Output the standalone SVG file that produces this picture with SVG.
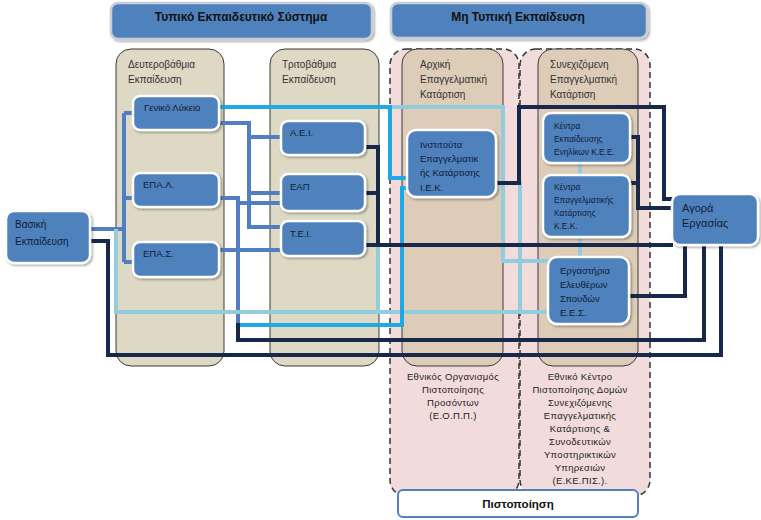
<svg xmlns="http://www.w3.org/2000/svg" width="761" height="520" viewBox="0 0 761 520">
<defs>
<filter id="sh" x="-20%" y="-20%" width="150%" height="150%">
<feDropShadow dx="1.5" dy="1.5" stdDeviation="1.2" flood-color="#000" flood-opacity="0.35"/>
</filter>
</defs>
<style>
text{font-family:"Liberation Sans",Arial,sans-serif;}
.hdr{fill:#4F81BD;stroke:#C8CDD6;stroke-width:2.5;filter:url(#sh);}
.hdrt{font-size:12px;font-weight:bold;fill:#111;text-anchor:middle;}
.col{fill:#DDD9C4;stroke:#3A3A3A;stroke-width:1;}
.colb{fill:#DDCCB8;stroke:#3A3A3A;stroke-width:1;}
.pink{fill:#F2DCDB;stroke:#333;stroke-width:1.5;stroke-dasharray:6 4;}
.ct{font-size:10px;fill:#333;}
.nd{fill:#4F81BD;stroke:#fff;stroke-width:2.5;filter:url(#sh);}
.nt{font-size:9.5px;fill:#0F1D35;}
.ns{font-size:8.3px;fill:#0F1D35;}
.bt{font-size:9.5px;fill:#222;text-anchor:middle;letter-spacing:0.3px;}
.c{fill:none;stroke-width:4;stroke-linejoin:miter;}
.mb{stroke:#4F7FC2;}
.lb{stroke:#93CDDD;}
.cy{stroke:#1FA8E1;}
.nv{stroke:#17284A;}
</style>
<rect width="761" height="520" fill="#fff"/>

<g id="hdr-typiko">
<rect class="hdr" x="111" y="3" width="261" height="36" rx="7"/>
<text class="hdrt" x="241" y="21">Τυπικό Εκπαιδευτικό Σύστημα</text>
</g>
<g id="hdr-mi-typiki">
<rect class="hdr" x="391" y="3" width="256" height="35" rx="7"/>
<text class="hdrt" x="518" y="21">Μη Τυπική Εκπαίδευση</text>
</g>

<g id="col-deuterovathmia">
<rect class="col" x="116" y="49" width="108" height="317" rx="15"/>
<text class="ct" x="128" y="68">Δευτεροβάθμια</text>
<text class="ct" x="128" y="83">Εκπαίδευση</text>
</g>
<g id="col-tritovathmia">
<rect class="col" x="270" y="49" width="109" height="317" rx="15"/>
<text class="ct" x="282" y="68">Τριτοβάθμια</text>
<text class="ct" x="282" y="83">Εκπαίδευση</text>
</g>
<g id="region-eopp">
<rect class="pink" x="390" y="49" width="129" height="447" rx="16"/>
<rect class="colb" x="402" y="49" width="101" height="317" rx="15"/>
<text class="ct" x="420" y="68">Αρχική</text>
<text class="ct" x="420" y="83">Επαγγελματική</text>
<text class="ct" x="420" y="98">Κατάρτιση</text>
<text class="bt" x="453" y="380">Εθνικός Οργανισμός</text>
<text class="bt" x="453" y="393">Πιστοποίησης</text>
<text class="bt" x="453" y="406">Προσόντων</text>
<text class="bt" x="453" y="419">(Ε.Ο.Π.Π.)</text>
</g>
<g id="region-ekepis">
<rect class="pink" x="520" y="49" width="130" height="447" rx="16"/>
<rect class="colb" x="538" y="49" width="100" height="317" rx="15"/>
<text class="ct" x="550" y="68">Συνεχιζόμενη</text>
<text class="ct" x="550" y="83">Επαγγελματική</text>
<text class="ct" x="550" y="98">Κατάρτιση</text>
<text class="bt" x="580" y="380">Εθνικό Κέντρο</text>
<text class="bt" x="580" y="393">Πιστοποίησης Δομών</text>
<text class="bt" x="580" y="406">Συνεχιζόμενης</text>
<text class="bt" x="580" y="419">Επαγγελματικής</text>
<text class="bt" x="580" y="432">Κατάρτισης &amp;</text>
<text class="bt" x="580" y="445">Συνοδευτικών</text>
<text class="bt" x="580" y="458">Υποστηρικτικών</text>
<text class="bt" x="580" y="471">Υπηρεσιών</text>
<text class="bt" x="580" y="484">(Ε.ΚΕ.ΠΙΣ.).</text>
</g>

<g id="connectors">
<!-- medium blue -->
<path class="c mb" d="M89 229 H124 M124 113 V262 M124 113 H134 M124 198 H134 M124 262 H134"/>
<path class="c mb" d="M218 123 H249 V227 H282 M249 137 H282 M249 193 H282"/>
<path class="c mb" d="M218 198 H238 V325 M238 203 H282"/>
<path class="c mb" d="M218 250 H282"/>
<!-- light blue -->
<path class="c lb" d="M116 229 V312 H549"/>
<path class="c lb" d="M218 107 H503 V261 H549"/>
<path class="c lb" d="M365 245 H378 V312"/>
<path class="c lb" d="M496 183 H520 V312"/>
<path class="c lb" d="M580 162 V176 M580 236 V258"/>
<!-- cyan -->
<path class="c cy" d="M218 107 H390 V178 H408"/>
<path class="c cy" d="M238 325 H402 V188 H408"/>
<!-- navy -->
<path class="c nv" d="M365 147 H378 V245 M365 193 H378 M365 245 H673"/>
<path class="c nv" d="M496 183 H519 V107 H664 V199 H673"/>
<path class="c nv" d="M629 137 H638 V208 H673 M629 183 H638"/>
<path class="c nv" d="M628 296 H685 V244"/>
<path class="c nv" d="M238 323 V340 H704 V244"/>
<path class="c nv" d="M89 241 H108 V355 H721 V244"/>
</g>

<g id="node-vasiki">
<rect class="nd" x="6" y="211" width="84" height="52" rx="8"/>
<text class="nt" x="15" y="228" style="font-size:10px">Βασική</text>
<text class="nt" x="15" y="245" style="font-size:10px">Εκπαίδευση</text>
</g>
<g id="node-geniko">
<rect class="nd" x="133" y="96" width="86" height="34" rx="7"/>
<text class="nt" x="144" y="111">Γενικό Λύκειο</text>
</g>
<g id="node-epal">
<rect class="nd" x="133" y="173" width="86" height="34" rx="7"/>
<text class="nt" x="143" y="188">ΕΠΑ.Λ.</text>
</g>
<g id="node-epas">
<rect class="nd" x="133" y="242" width="86" height="35" rx="7"/>
<text class="nt" x="143" y="257">ΕΠΑ.Σ.</text>
</g>
<g id="node-aei">
<rect class="nd" x="281" y="121" width="84" height="34" rx="7"/>
<text class="nt" x="290" y="136">Α.Ε.Ι.</text>
</g>
<g id="node-eap">
<rect class="nd" x="281" y="174" width="84" height="37" rx="7"/>
<text class="nt" x="290" y="190">ΕΑΠ</text>
</g>
<g id="node-tei">
<rect class="nd" x="281" y="221" width="84" height="35" rx="7"/>
<text class="nt" x="290" y="237">Τ.Ε.Ι.</text>
</g>
<g id="node-iek">
<rect class="nd" x="407" y="130" width="89" height="67" rx="9"/>
<text class="nt" x="420" y="148">Ινστιτούτα</text>
<text class="nt" x="420" y="162">Επαγγελματικ</text>
<text class="nt" x="420" y="176">ής Κατάρτισης</text>
<text class="nt" x="420" y="191">Ι.Ε.Κ.</text>
</g>
<g id="node-kee">
<rect class="nd" x="543" y="113" width="87" height="50" rx="8"/>
<text class="ns" x="554" y="129">Κέντρα</text>
<text class="ns" x="554" y="142">Εκπαίδευσης</text>
<text class="ns" x="554" y="155">Ενηλίκων Κ.Ε.Ε.</text>
</g>
<g id="node-kek">
<rect class="nd" x="543" y="175" width="87" height="62" rx="8"/>
<text class="ns" x="554" y="190">Κέντρα</text>
<text class="ns" x="554" y="203">Επαγγελματικής</text>
<text class="ns" x="554" y="216">Κατάρτισης</text>
<text class="ns" x="554" y="229">Κ.Ε.Κ.</text>
</g>
<g id="node-ees">
<rect class="nd" x="548" y="257" width="81" height="67" rx="9"/>
<text class="nt" x="560" y="274">Εργαστήρια</text>
<text class="nt" x="560" y="288">Ελευθέρων</text>
<text class="nt" x="560" y="302">Σπουδών</text>
<text class="nt" x="560" y="316">Ε.Ε.Σ.</text>
</g>
<g id="node-agora">
<rect class="nd" x="672" y="194" width="86" height="51" rx="8"/>
<text class="nt" x="682" y="212" style="font-size:11px">Αγορά</text>
<text class="nt" x="682" y="227" style="font-size:11px">Εργασίας</text>
</g>

<g id="node-pistopoiisi">
<rect x="398" y="490" width="240" height="27" rx="5" fill="#fff" stroke="#4F81BD" stroke-width="2"/>
<text class="hdrt" x="518" y="508" style="font-size:11.5px">Πιστοποίηση</text>
</g>
</svg>
